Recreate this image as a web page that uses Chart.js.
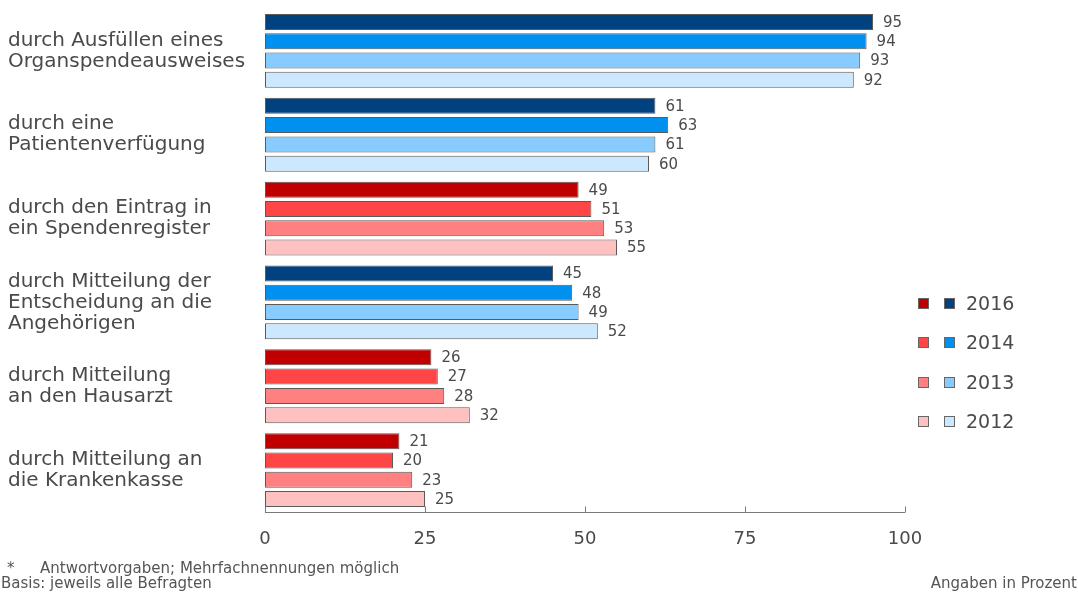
<!DOCTYPE html>
<html>
<head>
<meta charset="utf-8">
<script src="https://cdn.jsdelivr.net/npm/chart.js@4/dist/chart.umd.min.js"></script>
<style>
  body { margin: 0; background: #fff; font-family: "DejaVu Sans", Verdana, sans-serif; color: #4a4a4a; }
  #wrap { position: relative; width: 1078px; height: 592px; }
  #legend { position: absolute; left: 918px; top: 291px; }
  .row { height: 39.3px; display: flex; align-items: flex-start; font-size: 19px; line-height: 24px; }
  .sq { width: 11px; height: 11px; border: 1px solid #666; box-sizing: border-box; margin-top: 7px; }
  .sq + .sq { margin-left: 15px; }
  .row span { margin-left: 11px; }
  .foot { position: absolute; font-size: 15px; line-height: 15px; color: #555; white-space: nowrap; }
</style>
</head>
<body>
<div id="wrap">
  <canvas id="chart" width="1078" height="592"></canvas>
  <div id="legend"></div>
  <div class="foot" style="left:7px; top:561px;">*</div>
  <div class="foot" style="left:40px; top:561px;">Antwortvorgaben; Mehrfachnennungen möglich</div>
  <div class="foot" style="left:1px; top:576px;">Basis: jeweils alle Befragten</div>
  <div class="foot" style="right:1px; top:576px;">Angaben in Prozent</div>
</div>
<script>
const categories = [
  ['durch Ausfüllen eines', 'Organspendeausweises'],
  ['durch eine', 'Patientenverfügung'],
  ['durch den Eintrag in', 'ein Spendenregister'],
  ['durch Mitteilung der', 'Entscheidung an die', 'Angehörigen'],
  ['durch Mitteilung', 'an den Hausarzt'],
  ['durch Mitteilung an', 'die Krankenkasse'],
];
const years = ['2016', '2014', '2013', '2012'];
const values2016 = [95, 61, 49, 45, 26, 21];
const values2014 = [94, 63, 51, 48, 27, 20];
const values2013 = [93, 61, 53, 49, 28, 23];
const values2012 = [92, 60, 55, 52, 32, 25];
const xTicks = [0, 25, 50, 75, 100];
// which categories are drawn in red instead of blue
const redRows = [false, false, true, false, true, true];

const blues = ['#00427f', '#0090f0', '#88ccff', '#cce8ff'];
const reds = ['#c00000', '#ff4646', '#ff8080', '#ffc0c0'];

const seriesValues = [values2016, values2014, values2013, values2012];

const datasets = years.map((year, i) => ({
  label: year,
  data: seriesValues[i],
  backgroundColor: redRows.map((r) => (r ? reds[i] : blues[i])),
  borderColor: '#5a5a5a',
  borderWidth: 1,
  borderSkipped: false,
  categoryPercentage: 0.92,
  barPercentage: 0.83,
}));

// legend on the right
const legend = document.getElementById('legend');
years.forEach((year, i) => {
  const row = document.createElement('div');
  row.className = 'row';
  row.innerHTML = `<div class="sq" style="background:${reds[i]}"></div><div class="sq" style="background:${blues[i]}"></div><span>${year}</span>`;
  legend.appendChild(row);
});

const valueLabels = {
  id: 'valueLabels',
  afterDatasetsDraw(chart) {
    const ctx = chart.ctx;
    ctx.save();
    ctx.font = '15px "DejaVu Sans"';
    ctx.fillStyle = '#4a4a4a';
    ctx.textBaseline = 'middle';
    chart.data.datasets.forEach((ds, di) => {
      chart.getDatasetMeta(di).data.forEach((bar, i) => {
        ctx.fillText(ds.data[i], bar.x + 10, bar.y + 1);
      });
    });
    ctx.restore();
  },
};

const axisLine = {
  id: 'axisLine',
  afterDraw(chart) {
    const ctx = chart.ctx;
    const x = chart.scales.x;
    const y = chart.chartArea.bottom + 0.5;
    ctx.save();
    ctx.strokeStyle = '#7a7a7a';
    ctx.lineWidth = 1;
    ctx.beginPath();
    ctx.moveTo(chart.chartArea.left, y);
    ctx.lineTo(chart.chartArea.right, y);
    xTicks.forEach((t) => {
      const px = Math.round(x.getPixelForValue(t)) + 0.5;
      ctx.moveTo(px, y);
      ctx.lineTo(px, y - 6);
    });
    ctx.stroke();
    ctx.restore();
  },
};

new Chart(document.getElementById('chart'), {
  type: 'bar',
  data: { labels: categories, datasets },
  options: {
    indexAxis: 'y',
    responsive: false,
    animation: false,
    layout: { padding: { left: 8, right: 173, top: 9, bottom: 35 } },
    plugins: { legend: { display: false }, tooltip: { enabled: false } },
    scales: {
      x: {
        min: 0,
        max: 100,
        afterBuildTicks: (scale) => { scale.ticks = xTicks.map((v) => ({ value: v })); },
        afterFit: (scale) => { scale.height = 45; },
        grid: { display: false },
        border: { display: false },
        ticks: { padding: 9, color: '#4a4a4a', font: { family: 'DejaVu Sans', size: 18 } },
      },
      y: {
        afterFit: (scale) => {
          scale.width = 257;
          scale.paddingTop = 0;
          scale.paddingBottom = 0;
        },
        grid: { display: false },
        border: { display: false },
        ticks: {
          crossAlign: 'far',
          color: '#4a4a4a',
          font: { family: 'DejaVu Sans', size: 20, lineHeight: 1.05 },
        },
      },
    },
  },
  plugins: [valueLabels, axisLine],
});
</script>
</body>
</html>
